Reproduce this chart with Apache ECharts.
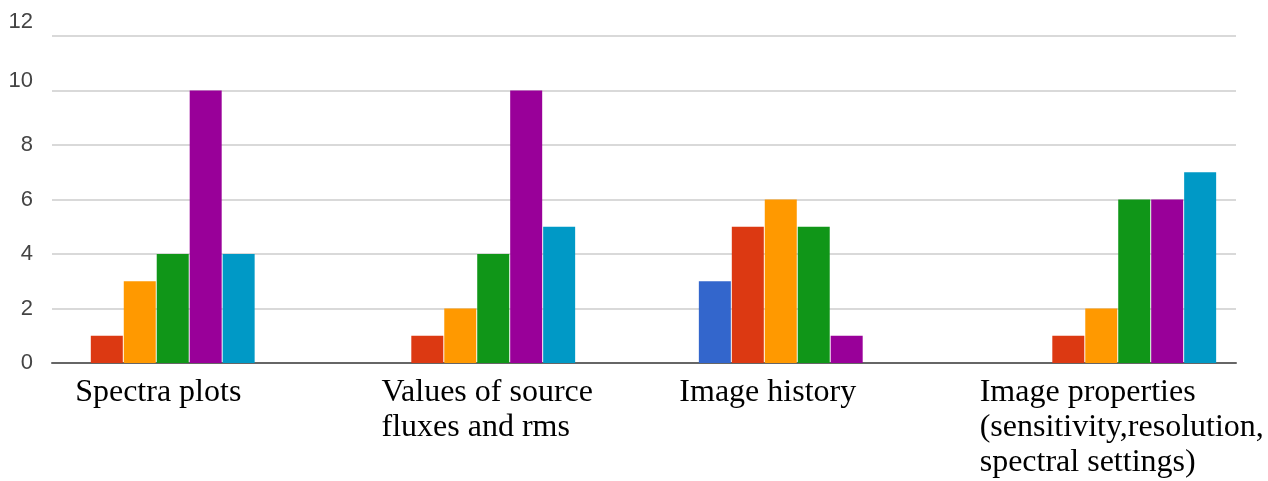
<!DOCTYPE html>
<html>
<head>
<meta charset="utf-8">
<script src="https://cdn.jsdelivr.net/npm/echarts@6/dist/echarts.min.js"></script>
<style>html,body{margin:0;padding:0;background:#fff;}#c{width:1268px;height:481px;}</style>
</head>
<body>
<div id="c"></div>
<script>
const categories = ['Spectra plots', 'Values of source\nfluxes and rms', 'Image history', 'Image properties\n(sensitivity,resolution,\nspectral settings)'];
const seriesNames = ['Series 1', 'Series 2', 'Series 3', 'Series 4', 'Series 5', 'Series 6'];
const blueValues   = [0, 0, 3, 0];
const redValues    = [1, 1, 5, 1];
const orangeValues = [3, 2, 6, 2];
const greenValues  = [4, 4, 5, 6];
const purpleValues = [10, 10, 1, 6];
const tealValues   = [4, 5, 0, 7];
const yMin = 0, yMax = 12, yStep = 2;

const colors = ['#3366cc', '#dc3912', '#ff9900', '#109618', '#990099', '#0099c6'];
const allValues = [blueValues, redValues, orangeValues, greenValues, purpleValues, tealValues];

// label block adjustments (style only)
const catRich = {};
const catPad = [[0,0,0,4],[0,0,0,21],[0,59,0,0],[0,0,0,8]];
catPad.forEach((p, i) => {
  catRich['c' + i] = { align: 'left', fontFamily: 'Liberation Serif', fontSize: 32, lineHeight: 35, color: '#000', padding: p };
});

const chart = echarts.init(document.getElementById('c'), null, { renderer: 'canvas' });
chart.setOption({
  animation: false,
  backgroundColor: '#fff',
  grid: [
    { left: 52, right: 32, top: 36, bottom: 118, outerBoundsMode: 'none', containLabel: false },
    { left: -4, right: -10, top: 36, bottom: 118, outerBoundsMode: 'none', containLabel: false }
  ],
  xAxis: [
    { gridIndex: 0, type: 'category', data: categories, axisLabel: { show: false }, axisTick: { show: false },
      axisLine: { show: true, lineStyle: { color: '#666', width: 2 } } },
    { gridIndex: 1, type: 'category', data: categories, axisLine: { show: false }, axisTick: { show: false },
      axisLabel: {
        interval: 0, hideOverlap: false, margin: 12,
        fontFamily: 'Liberation Serif', fontSize: 32, lineHeight: 35, color: '#000',
        formatter: (v, i) => v.split('\n').map(l => '{c' + i + '|' + l + '}').join('\n'),
        rich: catRich
      } }
  ],
  yAxis: [
    { gridIndex: 0, type: 'value', min: yMin, max: yMax, interval: yStep,
      axisLine: { show: false }, axisTick: { show: false },
      splitLine: { show: true, lineStyle: { color: '#d9d9d9', width: 2 } },
      axisLabel: {
        margin: 19, fontFamily: 'Liberation Sans', fontSize: 22, color: '#444',
        formatter: v => v === 12 ? '{t12|12}' : (v === 10 ? '{t10|10}' : '{n|' + v + '}'),
        rich: {
          n: { fontFamily: 'Liberation Sans', fontSize: 22, color: '#444' },
          t10: { fontFamily: 'Liberation Sans', fontSize: 22, color: '#444', padding: [0, 0, 20, 0] },
          t12: { fontFamily: 'Liberation Sans', fontSize: 22, color: '#444', padding: [0, 0, 28, 0] }
        }
      } },
    { gridIndex: 1, type: 'value', min: yMin, max: yMax, interval: yStep, show: false, splitLine: { show: false } }
  ],
  series: allValues.map((vals, i) => ({
    name: seriesNames[i],
    type: 'bar',
    xAxisIndex: 1,
    yAxisIndex: 1,
    data: vals,
    barWidth: 32,
    barGap: '3%',
    itemStyle: { color: colors[i] }
  }))
});
</script>
</body>
</html>
